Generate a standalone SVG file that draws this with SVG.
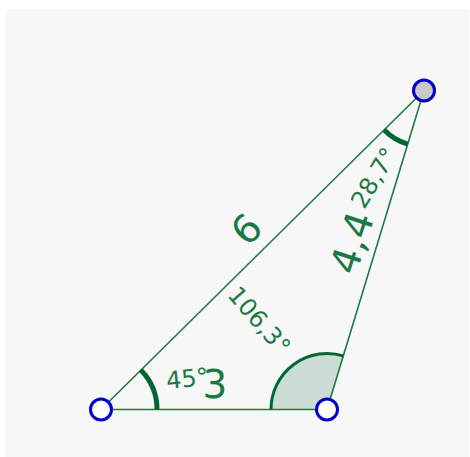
<svg xmlns="http://www.w3.org/2000/svg" width="470" height="457" viewBox="0 0 470 457">
<style>
.seg{stroke:#1e7a45;stroke-width:1.6;fill:none}
.arc{stroke:#006633;fill:none}
.lbl{font-family:"DejaVu Sans",sans-serif;fill:#1b7a43}
.big{font-size:39px}
.small{font-size:24px}
.pt{stroke:#0000cc;stroke-width:3}
</style>
<rect x="5" y="9" width="464" height="448" fill="#f7f7f7"/>
<g id="connectors">
<line class="seg" x1="101" y1="409.5" x2="327" y2="409.5"/>
<line class="seg" x1="327" y1="409.5" x2="424" y2="90.5"/>
<line class="seg" x1="424" y1="90.5" x2="101" y2="409.5"/>
</g>
<g id="angleA">
<path class="arc" stroke-width="5" d="M157 409.5 A56 56 0 0 0 140.8 370.1"/>
<text class="lbl small" transform="translate(167,389) rotate(-6)">45°</text>
</g>
<g id="angleB">
<path d="M327 409.5 L271 409.5 A56 56 0 0 1 343.3 355.9 Z" fill="#006633" fill-opacity="0.18"/>
<path class="arc" stroke-width="3" d="M271 409.5 A56 56 0 0 1 343.3 355.9"/>
<text class="lbl small" text-anchor="middle" transform="translate(253,326) rotate(49)">106,3°</text>
</g>
<g id="angleC">
<path class="arc" stroke-width="5" d="M384.2 129.9 A56 56 0 0 0 407.7 144.1"/>
<text class="lbl small" text-anchor="middle" transform="translate(381,182) rotate(-59)">28,7°</text>
</g>
<g id="labelAB"><text class="lbl big" text-anchor="middle" x="215" y="398">3</text></g>
<g id="labelAC"><text class="lbl big" text-anchor="middle" transform="translate(256.1,239) rotate(-44.6)">6</text></g>
<g id="labelBC"><text class="lbl big" text-anchor="middle" transform="translate(365,247) rotate(-72)">4,4</text></g>
<g id="pointA"><circle class="pt" cx="101" cy="409.5" r="10.5" fill="#ffffff"/></g>
<g id="pointB"><circle class="pt" cx="327" cy="409.5" r="10.5" fill="#ffffff"/></g>
<g id="pointC"><circle class="pt" cx="424" cy="90.5" r="10.5" fill="#c8c8c8"/></g>
</svg>
